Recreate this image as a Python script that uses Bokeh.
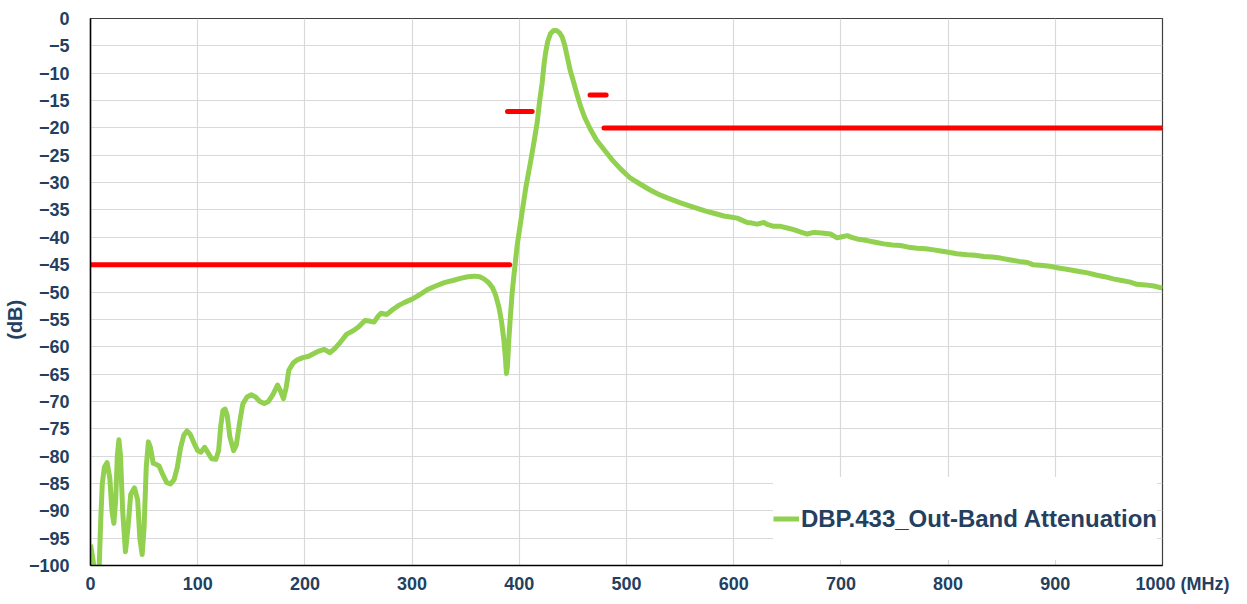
from bokeh.plotting import figure
from bokeh.models import Range1d, FixedTicker, Legend, LegendItem
from bokeh.embed import file_html
from bokeh.resources import INLINE

# ---- data -------------------------------------------------------------
freq_mhz = [0, 2, 4, 6, 8, 9.5, 11, 13, 15.5, 18, 20, 21.8, 23.5, 25, 26.5, 28, 30,
            32.6, 35, 37.5, 41, 44, 46, 48.2, 50, 52, 54, 56, 58.5, 61, 64, 67, 71,
            74.6, 78, 81, 84, 87, 90, 93, 97, 100, 103, 106.5, 110, 113, 117, 119.5,
            121.5, 123.5, 125.5, 127.5, 130, 133.5, 136, 139, 142, 146, 150, 154,
            158, 162, 166, 170, 174.5, 177, 180, 182.5, 185, 189, 193, 198, 203,
            208, 213, 218, 223.5, 228, 233, 239, 245, 250, 256, 260, 264.5, 268,
            271, 276.5, 282, 288, 293, 300, 307, 314, 322, 330, 338, 345, 352, 358,
            363, 367, 371, 375, 378, 381, 383.5, 385.6, 387, 388, 389, 390.2, 391.5,
            393.3, 395.5, 398, 400.5, 402.7, 406, 410.4, 413.5, 416.7, 419, 421.3,
            423, 424.4, 426.5, 429, 432, 434.7, 437.5, 440, 442.5, 444.7, 447.5,
            450.9, 454, 457.1, 461, 466.4, 472, 478.8, 486, 494.4, 503.7, 513,
            522.4, 531.7, 538, 550.4, 558, 566, 574, 581.5, 590.8, 597, 603.3, 608,
            612.6, 617, 621.9, 628.1, 632, 637.4, 643.7, 650, 656, 662, 668.6,
            674.7, 682, 690.3, 696.5, 701, 705.9, 710, 715.2, 724.5, 732, 740, 748,
            755.6, 763, 771.2, 779, 786.7, 793, 799.2, 808, 817.8, 825, 833.3, 841,
            848.9, 857, 866, 874, 879, 886, 895, 903, 912, 921, 930, 938, 946, 954,
            962, 970, 976, 984, 992, 1000]
atten_db = [-96.2, -98.5, -101.5, -104, -101, -92, -85, -82, -81.2, -84, -90, -92.3,
            -88, -80, -77, -80, -90, -97.5, -93, -87, -85.8, -88, -95, -98, -93, -82,
            -77.4, -78.5, -81.3, -81.5, -81.8, -83.2, -84.8, -85.1, -84.3, -82, -78.5,
            -76.2, -75.4, -76, -77.8, -79, -79.3, -78.4, -79.5, -80.5, -80.6, -79,
            -74.5, -71.7, -71.4, -72.5, -76.5, -79.0, -78, -74, -70.5, -69.2, -68.8,
            -69.2, -70, -70.4, -70, -68.8, -67.0, -68, -69.5, -67.5, -64.3, -63,
            -62.4, -62, -61.8, -61.3, -60.8, -60.5, -61.1, -60.3, -59.2, -57.7,
            -57.1, -56.4, -55.2, -55.3, -55.5, -54.5, -53.9, -54.1, -53.2, -52.4,
            -51.9, -51.3, -50.5, -49.6, -48.9, -48.3, -47.9, -47.5, -47.2, -47.1,
            -47.2, -47.6, -48.2, -49.2, -50.6, -52.8, -55.5, -58.8, -62, -64.9,
            -63.5, -58.8, -55, -50.2, -46, -41.5, -38.2, -35.3, -31, -26.3, -22.8,
            -19.0, -15, -11.8, -8.5, -6.4, -4.2, -2.8, -2.2, -2.2, -2.6, -3.4, -5,
            -7.0, -9.5, -11.8, -14, -16.0, -18.1, -20.3, -22.2, -23.9, -25.7, -27.5,
            -29.2, -30.3, -31.4, -32.3, -32.8, -33.7, -34.2, -34.7, -35.2, -35.6,
            -36.1, -36.3, -36.5, -36.9, -37.3, -37.4, -37.6, -37.3, -37.7, -38.0,
            -38.0, -38.3, -38.6, -39.0, -39.4, -39.1, -39.2, -39.4, -40.1, -39.9,
            -39.7, -40.0, -40.3, -40.6, -40.9, -41.2, -41.4, -41.5, -41.8, -42.0,
            -42.1, -42.3, -42.5, -42.7, -43.0, -43.2, -43.3, -43.5, -43.6, -43.8,
            -44.1, -44.4, -44.6, -45.0, -45.1, -45.3, -45.6, -45.9, -46.2, -46.5,
            -46.9, -47.2, -47.6, -47.9, -48.2, -48.6, -48.7, -48.9, -49.3]

# attenuation mask segments (start MHz, end MHz, level dB)
mask_start = [0, 389, 466, 479]
mask_end = [391, 412, 481, 1000]
mask_level = [-45, -17, -14, -20]

x_ticks = list(range(0, 1001, 100))
y_ticks = list(range(-100, 1, 5))

series_name = "DBP.433_Out-Band Attenuation"
x_unit = "(MHz)"
y_unit = "(dB)"

# ---- styling ----------------------------------------------------------
FONT = "Liberation Sans"
TXT = "#243F60"
GREEN = "#92D050"
NB = "\u00a0"

p = figure(width=1231, height=596, x_range=Range1d(0, 1000), y_range=Range1d(-100, 0),
           output_backend="svg", toolbar_location=None,
           min_border_left=90, min_border_right=69, min_border_top=18, min_border_bottom=27)

p.background_fill_color = "white"
p.border_fill_color = "white"
p.outline_line_color = "#404040"
p.outline_line_width = 1.2

for ax in (p.xaxis[0], p.yaxis[0]):
    ax.axis_line_color = "black"
    ax.axis_line_width = 1.5
    ax.major_tick_out = 0
    ax.major_tick_in = 0
    ax.minor_tick_out = 0
    ax.minor_tick_in = 0
    ax.major_label_text_font = FONT
    ax.major_label_text_font_style = "bold"
    ax.major_label_text_font_size = "18px"
    ax.major_label_text_color = TXT

p.xaxis.ticker = FixedTicker(ticks=x_ticks)
p.yaxis.ticker = FixedTicker(ticks=y_ticks)
p.xaxis.major_label_standoff = 8
p.yaxis.major_label_standoff = 21
# unit text placed to the right of the last tick label
p.xaxis.major_label_overrides = {x_ticks[-1]: NB * 8 + str(x_ticks[-1]) + NB + x_unit}

p.yaxis.axis_label = y_unit + NB * 10
p.yaxis.axis_label_text_font = FONT
p.yaxis.axis_label_text_font_style = "bold"
p.yaxis.axis_label_text_font_size = "20px"
p.yaxis.axis_label_text_color = TXT
p.yaxis.axis_label_standoff = 0

p.xgrid.grid_line_color = "#D9D9D9"
p.ygrid.grid_line_color = "#D9D9D9"
p.xgrid.grid_line_width = 1.2
p.ygrid.grid_line_width = 1.2

r = p.line(freq_mhz, atten_db, line_color=GREEN, line_width=5, line_join="round")
p.segment(x0=mask_start, y0=mask_level, x1=mask_end, y1=mask_level,
          line_color="#FF0000", line_width=5, line_cap="round")

legend = Legend(items=[LegendItem(label=series_name, renderers=[r])],
                location="bottom_right", margin=5, padding=6,
                border_line_color=None, background_fill_color="white",
                background_fill_alpha=1.0, glyph_width=26, glyph_height=83,
                label_height=83, label_standoff=2,
                label_text_font=FONT, label_text_font_style="bold",
                label_text_font_size="24px", label_text_color=TXT)
p.add_layout(legend)

open("out.html", "w").write(file_html(p, INLINE))
